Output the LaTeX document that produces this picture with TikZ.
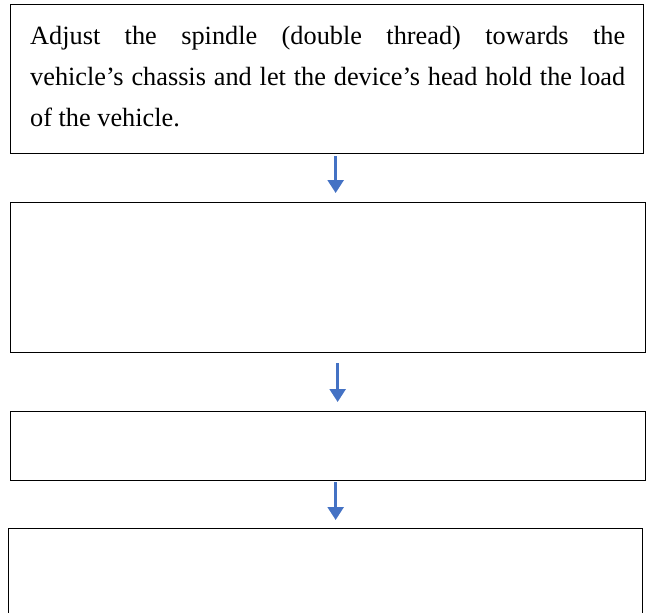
\documentclass[tikz,border=0pt]{standalone}
\usepackage{fontspec}
\setmainfont{Liberation Serif}
\usepackage{tikz}
\usetikzlibrary{arrows.meta}

\begin{document}
\begin{tikzpicture}[x=1pt, y=-1pt,
    flowbox/.style={draw, line width=1.3pt, anchor=north west, inner sep=0pt},
    flowarrow/.style={-{Triangle[width=16pt, length=13pt]}, line width=2.6pt, draw={rgb,255:red,68;green,114;blue,196}}]
            \useasboundingbox (0,0) rectangle (646,613);

            % first step, with its text
            \node[flowbox, minimum width=633pt, minimum height=149pt] (box1) at (10,4) {};
            \node[anchor=base west, text width=595pt, align=justify, inner sep=0pt,
                  font=\fontsize{26.3}{41}\selectfont] (text1) at (30,45)
                {Adjust the spindle (double thread) towards the\linebreak vehicle’s chassis and let the device’s head hold the load\linebreak of the vehicle.};

            % empty steps
            \node[flowbox, minimum width=635pt, minimum height=150pt] (box2) at (10,202) {};
            \node[flowbox, minimum width=635pt, minimum height=69pt] (box3) at (10,411) {};
            \node[flowbox, minimum width=634pt, minimum height=86pt] (box4) at (8,528) {};

            % arrows
            \draw[flowarrow, shorten <=2pt, shorten >=9pt] ([xshift=8.5pt]box1.south) -- ([xshift=7.5pt]box2.north);
            \draw[flowarrow, shorten <=10pt, shorten >=9pt] ([xshift=9.5pt]box2.south) -- ([xshift=9.5pt]box3.north);
            \draw[flowarrow, shorten <=1pt, shorten >=8pt] ([xshift=7.5pt]box3.south) -- ([xshift=10pt]box4.north);
        \end{tikzpicture}
\end{document}
